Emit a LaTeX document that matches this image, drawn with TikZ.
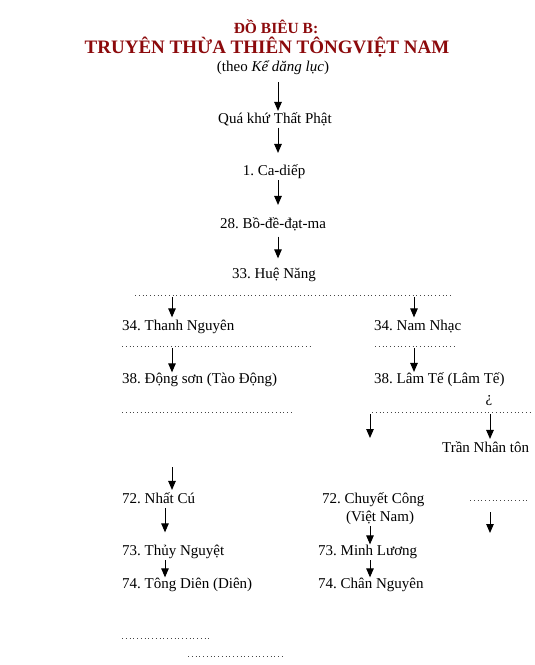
\documentclass[tikz,border=0pt]{standalone}
\usepackage{fontspec}
\setmainfont{Liberation Serif}
\frenchspacing
\usepackage{xcolor}
\definecolor{titlered}{RGB}{140, 10, 12}
\definecolor{leaderdot}{RGB}{70, 70, 70}
\usepackage{tikz}
\usetikzlibrary{arrows.meta,calc}

\tikzset{
    monk/.style={anchor=base west, inner sep=0pt, font=\fontsize{15}{18}\selectfont},
    monkc/.style={monk, anchor=base},
    hdr/.style={anchor=base, inner sep=0pt, text=titlered, font=\bfseries\fontsize{15.5}{18}\selectfont},
    link/.style={-{Triangle[length=9pt,width=7.5pt]}, line width=1pt, shorten <=2pt},
    leader/.style={line width=0.9pt, leaderdot, dash pattern=on 0.9pt off 2.85pt}
}

\begin{document}
\begin{tikzpicture}[x=1pt, y=-1pt]
    \useasboundingbox (0,0) rectangle (535,665);

    % Title
    \node[hdr] (HdrA) at (276,33) {ĐỒ BIÊU B:};
    \node[hdr, font=\bfseries\fontsize{19}{22}\selectfont] (HdrB) at (267,53) {TRUYÊN THỪA THIÊN TÔNGVIỆT NAM};
    \node[monkc] (Src) at (273,71) {(theo \textit{Kể dăng lục})};

    % Main line
    \coordinate (Spine) at (278,0);
    \node[monkc] (Qua) at (275,123) {Quá khứ Thất Phật};
    \node[monkc] (P1) at (274,175) {1. Ca-diếp};
    \node[monkc] (P28) at (273,228) {28. Bồ-đề-đạt-ma};
    \node[monkc] (P33) at (274,278) {33. Huệ Năng};
    \draw[link, shorten <=8pt, shorten >=1pt] (Src.south -| Spine) -- (Qua.north -| Spine);
    \draw[link, shorten >=11pt] (Qua.south -| Spine) -- (P1.north -| Spine);
    \draw[link, shorten >=12pt] (P1.south -| Spine) -- (P28.north -| Spine);
    \draw[link, shorten <=6pt, shorten >=9pt] (P28.south -| Spine) -- (P33.north -| Spine);

    % First split
    \draw[leader] (135,295) -- (452,295);
    \coordinate (ForkL) at (172,295);
    \coordinate (ForkR) at (414,295);
    \node[monk] (Thanh) at (122,330) {34. Thanh Nguyên};
    \node[monk] (Nam) at (374,330) {34. Nam Nhạc};
    \draw[link, shorten >=2pt] (ForkL) -- (ForkL |- Thanh.north);
    \draw[link, shorten >=2pt] (ForkR) -- (ForkR |- Nam.north);

    \draw[leader] (122,346) -- (312,346);
    \draw[leader] (375,346) -- (457,346);
    \coordinate (MidL) at (172,346);
    \coordinate (MidR) at (414,346);
    \node[monk] (Dong) at (122,383) {38. Động sơn (Tào Động)};
    \node[monk] (Lam) at (374,383) {38. Lâm Tế (Lâm Tế)};
    \draw[link] (MidL) -- (MidL |- Dong.north);
    \draw[link] (MidR) -- (MidR |- Lam.north);
    \node[monkc] (Qmark) at (489,402) {¿};

    % Lower branches
    \draw[leader] (122,412) -- (292,412);
    \draw[leader] (372,412) -- (530,412);
    \coordinate (LowA) at (370,412);
    \coordinate (LowAEnd) at (370,438);
    \coordinate (LowB) at (490,412);
    \node[monk] (Tran) at (442,452) {Trần Nhân tôn};
    \draw[link] (LowA) -- (LowAEnd);
    \draw[link, shorten >=2pt] (LowB) -- (LowB |- Tran.north);

    \coordinate (GapA) at (172,465);
    \node[monk] (Nhat) at (122,503) {72. Nhất Cú};
    \node[monk] (Chuyet) at (322,503) {72. Chuyết Công};
    \node[monk] (VN) at (346,521) {(Việt Nam)};
    \draw[link, shorten >=2pt] (GapA) -- (GapA |- Nhat.north);

    \draw[leader] (470,500) -- (528,500);
    \coordinate (FarTop) at (490,510);
    \coordinate (FarEnd) at (490,533);
    \draw[link] (FarTop) -- (FarEnd);

    \coordinate (ColL) at (165,0);
    \coordinate (ColR) at (370,0);
    \node[monk] (Thuy) at (122,555) {73. Thủy Nguyệt};
    \node[monk] (Minh) at (318,555) {73. Minh Lương};
    \node[monk] (Tong) at (122,588) {74. Tông Diên (Diên)};
    \node[monk] (Chan) at (318,588) {74. Chân Nguyên};
    \draw[link, shorten <=5pt, shorten >=12pt] (Nhat.south -| ColL) -- (Thuy.north -| ColL);
    \draw[link] (VN.south -| ColR) -- (Minh.north -| ColR);
    \draw[link] (Thuy.south -| ColL) -- (Tong.north -| ColL);
    \draw[link] (Minh.south -| ColR) -- (Chan.north -| ColR);

    % Trailing leaders
    \draw[leader] (122,638) -- (210,638);
    \draw[leader] (188,656) -- (285,656);
\end{tikzpicture}
\end{document}
